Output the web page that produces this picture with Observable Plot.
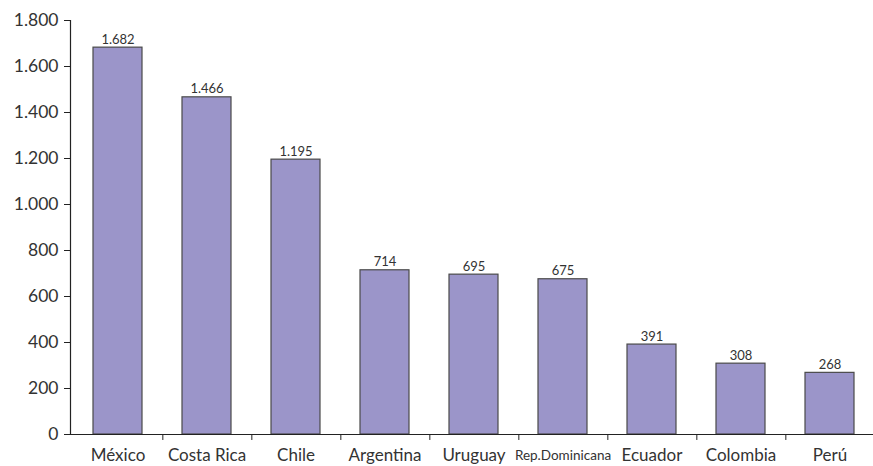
<!DOCTYPE html>
<html><head><meta charset="utf-8">
<script src="https://cdn.jsdelivr.net/npm/d3@7"></script>
<script src="https://cdn.jsdelivr.net/npm/@observablehq/plot@0.6"></script>
<style>body{margin:0;background:#fff;font-family:Lato,sans-serif;}</style>
</head><body><div id="chart"></div>
<script>
const countries = ["México","Costa Rica","Chile","Argentina","Uruguay","Rep.Dominicana","Ecuador","Colombia","Perú"];
const values = [1682,1466,1195,714,695,675,391,308,268];
const yTicks = [0,200,400,600,800,1000,1200,1400,1600,1800];
const data = countries.map((c,i)=>({country:c, value:values[i]}));
const fmt = d3.formatLocale({decimal:",", thousands:".", grouping:[3], currency:["",""]}).format(",d");
const step = (877-70)/countries.length;
const chart = Plot.plot({
  width: 873, height: 466,
  marginLeft: 70, marginRight: 0, marginTop: 20, marginBottom: 32,
  style: {fontFamily: "Lato, sans-serif", background: "#fff", color: "#222"},
  x: {domain: countries, range: [70, 877], paddingInner: 0.45, paddingOuter: 0.225, axis: null},
  y: {domain: [0,1800], range: [434, 20], axis: null},
  marks: [
    Plot.barY(data, {x:"country", y:"value", fill:"#9b95c9", stroke:"#4a4a4a", strokeWidth:1.2}),
    Plot.text(data, {x:"country", y:"value", text: d=>fmt(d.value), dy:-8, fontSize:13, fill:"#333"}),
    Plot.axisY({ticks: yTicks, tickFormat: fmt, tickSize: 6, tickPadding: 6, fontSize: 17.5, stroke:"#222", fill:"#333", label: null}),
    Plot.ruleY([0], {stroke:"#222", strokeWidth:1.2}),
    Plot.frame({anchor:"left", stroke:"#222", strokeWidth:1.2}),
    Plot.ruleX(countries, {x: d=>d, y1: 0, y2: -26, dx: step/2, stroke:"#222", clip:false}),
    Plot.text(data, {x:"country", y:0, text:"country", dy: 21, lineAnchor:"middle", fontSize: d=> d.country==="Rep.Dominicana" ? 13.5 : 17, fill:"#333"})
  ]
});
document.getElementById("chart").appendChild(chart);
</script></body></html>
